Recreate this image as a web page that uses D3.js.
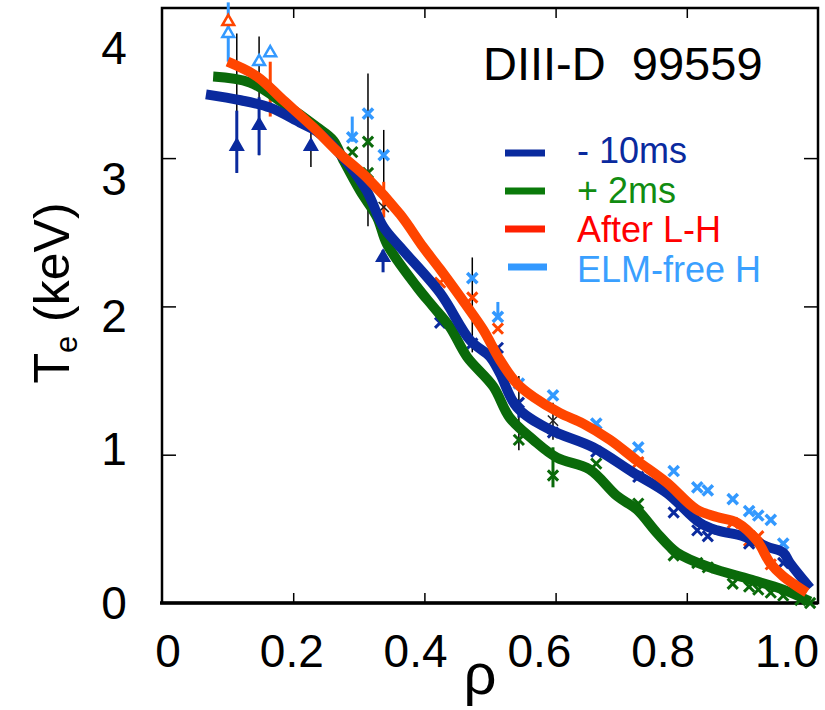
<!DOCTYPE html>
<html lang="en">
<head>
<meta charset="utf-8">
<script src="https://cdnjs.cloudflare.com/ajax/libs/d3/7.8.5/d3.min.js"></script>
<style>
	body { margin:0; background:#fff; }
	svg { display:block; background:#fff; font-family:'Liberation Sans', Arial, sans-serif; }
	.fit { fill:none; stroke-width:10px; stroke-linejoin:round; stroke-linecap:butt; }
	.frame { fill:none; stroke:#000; stroke-width:2.5px; }
	.tick line { stroke:#000; stroke-width:1.5px; }
	.domain { display:none; }
</style>
</head>
<body>
<div id="chart"></div>
<script>

var width = 825, height = 710;

// fitted profiles (rho, Te keV)
var rhoM10 = [0.067,0.12,0.165,0.21,0.236,0.271,0.312,0.337,0.363,0.424,0.47,0.5,0.515,0.541,0.591,0.657,0.718,0.77,0.82,0.846,0.886,0.922,0.947,0.957,0.988];
var teM10  = [3.43,3.39,3.34,3.24,3.18,3.03,2.78,2.54,2.40,2.09,1.77,1.66,1.55,1.32,1.17,1.05,0.88,0.74,0.54,0.49,0.45,0.38,0.34,0.27,0.10];

var rhoP2 = [0.078,0.134,0.185,0.236,0.261,0.276,0.302,0.328,0.343,0.389,0.413,0.439,0.465,0.505,0.53,0.566,0.602,0.652,0.694,0.724,0.755,0.785,0.835,0.896,0.947,0.988];
var teP2  = [3.55,3.51,3.37,3.21,3.12,2.99,2.78,2.60,2.42,2.13,2.0,1.86,1.66,1.46,1.25,1.10,0.98,0.90,0.72,0.63,0.47,0.34,0.24,0.16,0.09,0.01];

var rhoLH = [0.1,0.145,0.185,0.23,0.271,0.312,0.363,0.398,0.424,0.465,0.49,0.515,0.541,0.566,0.607,0.642,0.683,0.724,0.77,0.815,0.846,0.877,0.907,0.927,0.947,0.983];
var teLH  = [3.65,3.55,3.39,3.21,3.03,2.87,2.62,2.40,2.25,2.0,1.84,1.64,1.48,1.39,1.28,1.21,1.10,0.96,0.81,0.63,0.58,0.54,0.42,0.27,0.18,0.07];

// Thomson points (x markers)
var rhoPtElm = [0.290,0.314,0.338,0.473,0.512,0.544,0.596,0.662,0.726,0.780,0.816,0.832,0.870,0.895,0.909,0.928,0.947];
var tePtElm  = [3.14,3.30,3.02,2.19,1.93,1.48,1.40,1.21,1.05,0.89,0.78,0.76,0.70,0.62,0.59,0.56,0.40];

var rhoPtLH = [0.424,0.473,0.512,0.726,0.870,0.895,0.909,0.928];
var tePtLH  = [2.16,2.06,1.85,0.95,0.54,0.42,0.45,0.26];

var rhoPtM10 = [0.424,0.473,0.512,0.544,0.596,0.662,0.726,0.780,0.816,0.832,0.895,0.947];
var tePtM10  = [1.89,1.75,1.72,1.35,1.15,1.02,0.85,0.61,0.49,0.45,0.40,0.27];

var rhoPtP2 = [0.290,0.314,0.314,0.544,0.596,0.662,0.726,0.780,0.816,0.832,0.870,0.895,0.909,0.928,0.947,0.973,0.988];
var tePtP2  = [3.04,3.11,2.90,1.10,0.86,0.94,0.67,0.32,0.27,0.24,0.13,0.11,0.09,0.07,0.05,0.02,0.0];

var rhoPtBlack = [0.338,0.596];
var tePtBlack  = [2.67,1.23];

// error bars: rho, low, high
var rhoErrBlack = [0.114,0.148,0.227,0.314,0.338,0.473,0.544,0.596];
var loErrBlack  = [2.90,3.02,2.94,2.54,2.60,1.69,1.03,1.10];
var hiErrBlack  = [3.84,3.82,3.18,3.57,3.19,2.33,1.53,1.35];

var rhoErrElm = [0.101,0.290,0.512];
var loErrElm  = [3.65,3.11,1.92];
var hiErrElm  = [4.05,3.28,2.03];

var rhoErrLH = [0.165,0.338];
var loErrLH  = [3.28,2.60];
var hiErrLH  = [3.65,2.84];

var rhoErrM10 = [0.114,0.148,0.337,0.544];
var loErrM10  = [2.90,3.02,2.23,1.25];
var hiErrM10  = [3.32,3.41,2.38,1.37];

var rhoErrP2 = [0.596];
var loErrP2  = [0.78];
var hiErrP2  = [1.05];

// ECE triangles
var rhoTriM10 = [0.114,0.148,0.227,0.337];
var teTriM10  = [3.08,3.22,3.08,2.33];
var rhoTriElm = [0.101,0.148,0.165];
var teTriElm  = [3.84,3.65,3.71];
var rhoTriLH = [0.101];
var teTriLH  = [3.92];

// axis ticks and labels
var xTicks = [0.2,0.4,0.6,0.8];
var yTicks = [1,2,3];
var xLabelVals = [0,0.2,0.4,0.6,0.8,1.0];
var xLabelText = ["0","0.2","0.4","0.6","0.8","1.0"];
var yLabelVals = [0,1,2,3,4];

var legendNames = ["- 10ms","+ 2ms","After L-H","ELM-free H"];
var legendLine = ["#0a2a9e","#0a7a0a","#ff2000","#3399ff"];
var legendText = ["#0a2a9e","#118c11","#ff0000","#3aa0ff"];

var cBlue = "#0a2a9e", cGreen = "#0a6a0a", cRed = "#ff4500", cLight = "#3399ff";

var x = d3.scaleLinear().domain([0,1]).range([162,818]);
var y = d3.scaleLinear().domain([0,4]).range([603,9.8]);
// tick labels were placed a bit off the ticks in the original
var xl = d3.scaleLinear().domain([0,1]).range([168,787]);
var yl = d3.scaleLinear().domain([0,1,2,3,4]).range([602,448,315,178,47]);

var svg = d3.select("#chart").append("svg")
	.attr("width", width)
	.attr("height", height);

// frame
svg.append("rect").attr("class","frame")
	.attr("x",162).attr("y",8).attr("width",656).attr("height",595);
svg.append("line").attr("x1",160).attr("x2",818).attr("y1",603).attr("y2",603)
	.style("stroke","#000").style("stroke-width",3.5);

svg.append("g").attr("transform","translate(0,603)")
	.call(d3.axisBottom(x).tickValues(xTicks).tickSize(-10).tickFormat(""));
svg.append("g").attr("transform","translate(0,8)")
	.call(d3.axisTop(x).tickValues(xTicks).tickSize(-10).tickFormat(""));
svg.append("g").attr("transform","translate(162,0)")
	.call(d3.axisLeft(y).tickValues(yTicks).tickSize(-14).tickFormat(""));
svg.append("g").attr("transform","translate(818,0)")
	.call(d3.axisRight(y).tickValues(yTicks).tickSize(-14).tickFormat(""));

svg.selectAll(".xlab").data(xLabelVals).enter().append("text")
	.attr("x", function(d){ return xl(d); })
	.attr("y", 667)
	.attr("text-anchor","middle")
	.style("font-size","46px")
	.text(function(d,i){ return xLabelText[i]; });

svg.selectAll(".ylab").data(yLabelVals).enter().append("text")
	.attr("x", 114)
	.attr("y", function(d){ return yl(d) + 17; })
	.attr("text-anchor","middle")
	.style("font-size","46px")
	.text(function(d){ return d; });

svg.append("text")
	.attr("x",480).attr("y",694)
	.attr("text-anchor","middle")
	.style("font-size","58px")
	.text("ρ");

var ytitle = svg.append("text")
	.attr("transform","translate(69,293) rotate(-90)")
	.attr("text-anchor","middle")
	.style("font-size","50px");
ytitle.append("tspan").text("T");
ytitle.append("tspan").attr("dy",8).style("font-size","31px").text("e");
ytitle.append("tspan").attr("dy",-8).text(" (keV)");

svg.append("text")
	.attr("x",483).attr("y",80)
	.style("font-size","47px")
	.style("white-space","pre")
	.text("DIII-D  99559");

// error bars
function bars(rho, lo, hi, color, w) {
	svg.append("g").selectAll("line").data(rho).enter().append("line")
		.attr("x1", function(d){ return x(d); })
		.attr("x2", function(d){ return x(d); })
		.attr("y1", function(d,i){ return y(lo[i]); })
		.attr("y2", function(d,i){ return y(hi[i]); })
		.style("stroke", color)
		.style("stroke-width", w);
}
bars(rhoErrBlack, loErrBlack, hiErrBlack, "#000", 1.5);
bars(rhoErrElm, loErrElm, hiErrElm, cLight, 3);
bars(rhoErrLH, loErrLH, hiErrLH, cRed, 3);
bars(rhoErrM10, loErrM10, hiErrM10, cBlue, 3);
bars(rhoErrP2, loErrP2, hiErrP2, cGreen, 3);

// x markers
var cross = d3.symbol().type(d3.symbolX).size(70);
function crosses(rho, te, color, w) {
	svg.append("g").selectAll("path").data(rho).enter().append("path")
		.attr("d", cross)
		.attr("transform", function(d,i){ return "translate(" + x(d) + "," + y(te[i]) + ")"; })
		.style("fill","none")
		.style("stroke", color)
		.style("stroke-width", w);
}
crosses(rhoPtElm, tePtElm, cLight, 3.5);
crosses(rhoPtLH, tePtLH, cRed, 3);
crosses(rhoPtM10, tePtM10, cBlue, 3);
crosses(rhoPtP2, tePtP2, cGreen, 3);
crosses(rhoPtBlack, tePtBlack, "#222", 1.5);

// fitted profiles
var line = d3.line()
	.x(function(d){ return x(d[0]); })
	.y(function(d){ return y(d[1]); })
	.curve(d3.curveCatmullRom.alpha(0.5));

svg.append("path").attr("class","fit")
	.attr("d", line(d3.zip(rhoP2, teP2))).style("stroke", cGreen);
svg.append("path").attr("class","fit")
	.attr("d", line(d3.zip(rhoM10, teM10))).style("stroke", cBlue);
svg.append("path").attr("class","fit")
	.attr("d", line(d3.zip(rhoLH, teLH))).style("stroke", cRed);

// ECE triangles
var tri = d3.symbol().type(d3.symbolTriangle).size(60);
function triangles(rho, te, color, filled) {
	svg.append("g").selectAll("path").data(rho).enter().append("path")
		.attr("d", tri)
		.attr("transform", function(d,i){ return "translate(" + x(d) + "," + y(te[i]) + ")"; })
		.style("fill", filled ? color : "#fff")
		.style("stroke", color)
		.style("stroke-width", 2.5);
}
triangles(rhoTriM10, teTriM10, cBlue, true);
triangles(rhoTriElm, teTriElm, cLight, false);
triangles(rhoTriLH, teTriLH, cRed, false);

// legend
var leg = svg.append("g");
leg.selectAll("line").data(legendNames).enter().append("line")
	.attr("x1", function(d,i){ return i == 3 ? 508 : 505; })
	.attr("x2", function(d,i){ return i == 3 ? 547 : 545; })
	.attr("y1", function(d,i){ return 153 + i*38; })
	.attr("y2", function(d,i){ return 153 + i*38; })
	.style("stroke", function(d,i){ return legendLine[i]; })
	.style("stroke-width", 7);
leg.selectAll("text").data(legendNames).enter().append("text")
	.attr("x", 577)
	.attr("y", function(d,i){ return 163 + i*39.7; })
	.style("font-size","36px")
	.style("fill", function(d,i){ return legendText[i]; })
	.text(function(d){ return d; });

</script>
</body>
</html>
